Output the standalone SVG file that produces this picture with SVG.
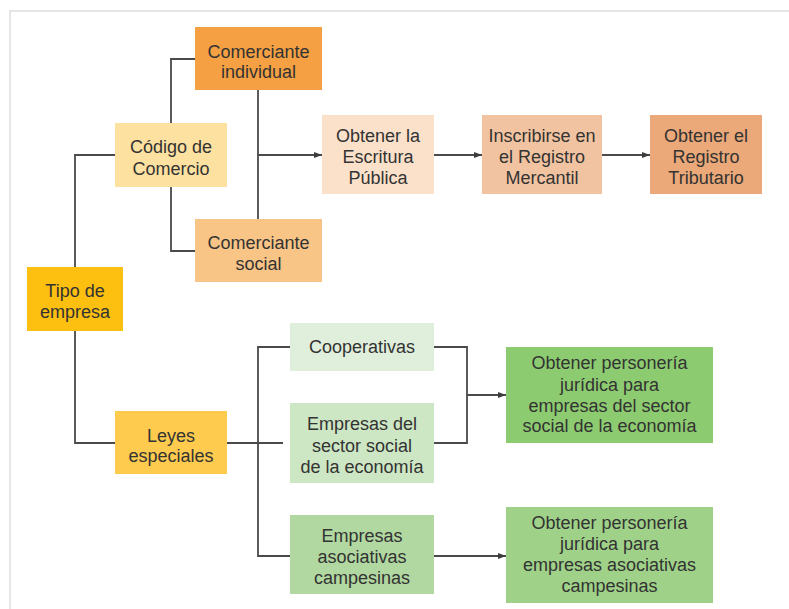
<svg xmlns="http://www.w3.org/2000/svg" width="789" height="609" viewBox="0 0 789 609">
<defs>
<marker id="arr" markerUnits="userSpaceOnUse" markerWidth="9" markerHeight="8" refX="8" refY="4" orient="auto">
<path d="M0,1 L8,4 L0,7 Z" fill="#3c3c3c"/>
</marker>
<style>
.t{font-family:"Liberation Sans",Arial,sans-serif;font-size:18px;fill:#333;text-anchor:middle}
.c{fill:none;stroke:#4a4a4a;stroke-width:1.8}
.a{fill:none;stroke:#4a4a4a;stroke-width:1.8;marker-end:url(#arr)}
</style>
</defs>
<rect width="789" height="609" fill="#fff"/>
<path d="M10,609 V11 H789" fill="none" stroke="#e6e6e6" stroke-width="2"/>

<g id="connectors">
<path class="c" d="M115,155 H75 V267"/>
<path class="c" d="M75,331 V443 H115"/>
<path class="c" d="M195,59 H171 V123"/>
<path class="c" d="M171,187 V251 H195"/>
<path class="c" d="M258,90 V219"/>
<path class="a" d="M258,155 H322"/>
<path class="a" d="M434,155 H482"/>
<path class="a" d="M602,155 H650"/>
<path class="c" d="M227,443 H283"/>
<path class="c" d="M290,347 H258 V556 H290"/>
<path class="c" d="M434,347 H467 V443 H434"/>
<path class="a" d="M467,395 H506"/>
<path class="a" d="M434,556 H506"/>
</g>

<g id="tipo">
<rect x="27" y="267" width="96" height="64" fill="#fdc010"/>
<text class="t" x="75" y="297">Tipo de<tspan x="75" y="318">empresa</tspan></text>
</g>
<g id="codigo">
<rect x="115" y="123" width="112" height="64" fill="#fde1a0"/>
<text class="t" x="171" y="153">Código de<tspan x="171" y="175">Comercio</tspan></text>
</g>
<g id="com-individual">
<rect x="195" y="27" width="127" height="63" fill="#f5a043"/>
<text class="t" x="258.5" y="58">Comerciante<tspan x="258.5" y="78">individual</tspan></text>
</g>
<g id="com-social">
<rect x="195" y="219" width="127" height="63" fill="#f9c587"/>
<text class="t" x="258.5" y="249">Comerciante<tspan x="258.5" y="270">social</tspan></text>
</g>
<g id="escritura">
<rect x="322" y="115" width="112" height="79" fill="#fbe1ca"/>
<text class="t" x="378" y="141.5">Obtener la<tspan x="378" y="162.5">Escritura</tspan><tspan x="378" y="183.5">Pública</tspan></text>
</g>
<g id="mercantil">
<rect x="482" y="115" width="120" height="79" fill="#f2c3a0"/>
<text class="t" x="542" y="141.5">Inscribirse en<tspan x="542" y="162.5">el Registro</tspan><tspan x="542" y="183.5">Mercantil</tspan></text>
</g>
<g id="tributario">
<rect x="650" y="115" width="112" height="79" fill="#eba878"/>
<text class="t" x="706" y="141.5">Obtener el<tspan x="706" y="162.5">Registro</tspan><tspan x="706" y="183.5">Tributario</tspan></text>
</g>
<g id="leyes">
<rect x="115" y="411" width="112" height="63" fill="#fecb4e"/>
<text class="t" x="171" y="441.5">Leyes<tspan x="171" y="462">especiales</tspan></text>
</g>
<g id="cooperativas">
<rect x="290" y="323" width="144" height="48" fill="#e0efdb"/>
<text class="t" x="362" y="353">Cooperativas</text>
</g>
<g id="sector-social">
<rect x="290" y="403" width="144" height="80" fill="#cde6c3"/>
<text class="t" x="362" y="430">Empresas del<tspan x="362" y="451.5">sector social</tspan><tspan x="362" y="472.5">de la economía</tspan></text>
</g>
<g id="asociativas">
<rect x="290" y="515" width="144" height="79" fill="#b1d8a0"/>
<text class="t" x="362" y="541.5">Empresas<tspan x="362" y="563">asociativas</tspan><tspan x="362" y="584">campesinas</tspan></text>
</g>
<g id="personeria-social">
<rect x="506" y="347" width="207" height="96" fill="#8dcb70"/>
<text class="t" x="609.5" y="369">Obtener personería<tspan x="609.5" y="390.5">jurídica para</tspan><tspan x="609.5" y="411.5">empresas del sector</tspan><tspan x="609.5" y="432">social de la economía</tspan></text>
</g>
<g id="personeria-campesinas">
<rect x="506" y="507" width="207" height="96" fill="#9fd288"/>
<text class="t" x="609.5" y="529">Obtener personería<tspan x="609.5" y="550">jurídica para</tspan><tspan x="609.5" y="571">empresas asociativas</tspan><tspan x="609.5" y="592">campesinas</tspan></text>
</g>
</svg>
